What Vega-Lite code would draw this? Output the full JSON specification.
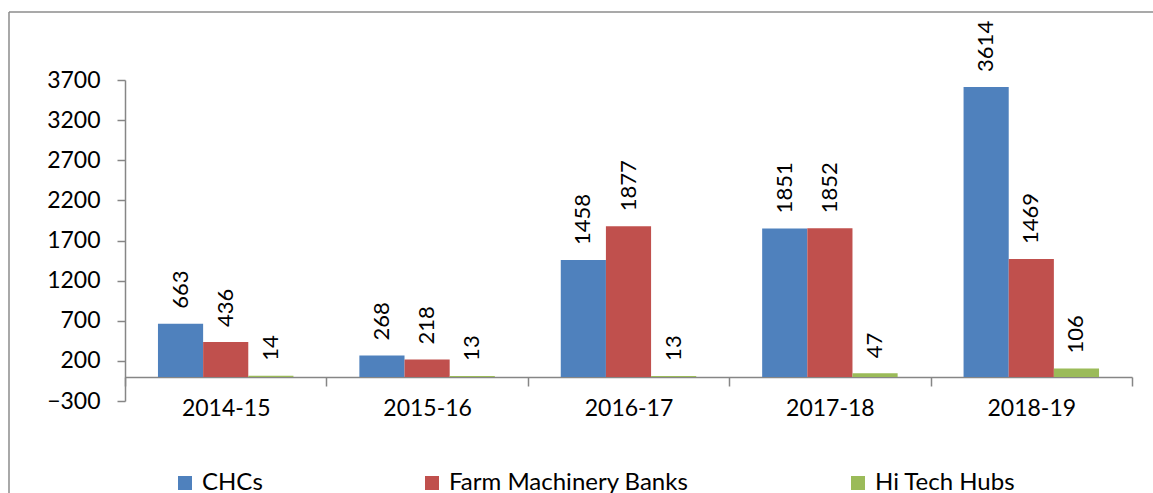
{
  "$schema": "https://vega.github.io/schema/vega-lite/v6.json",
  "width": 1007,
  "height": 321,
  "autosize": "none",
  "padding": {"left": 125, "top": 80, "right": 21, "bottom": 92},
  "background": "white",
  "config": {
    "font": "Lato",
    "view": {"stroke": null},
    "axis": {"labelFont": "Lato", "labelColor": "#000000", "domainColor": "#868686", "tickColor": "#868686", "domainWidth": 1.5, "tickWidth": 1.5, "grid": false, "title": null}
  },
  "resolve": {"scale": {"x": "independent"}, "axis": {"x": "independent"}},
  "layer": [
    {
      "data": {
        "values": [
          {"year": "2014-15", "series": "CHCs", "value": 663},
          {"year": "2014-15", "series": "Farm Machinery Banks", "value": 436},
          {"year": "2014-15", "series": "Hi Tech Hubs", "value": 14},
          {"year": "2015-16", "series": "CHCs", "value": 268},
          {"year": "2015-16", "series": "Farm Machinery Banks", "value": 218},
          {"year": "2015-16", "series": "Hi Tech Hubs", "value": 13},
          {"year": "2016-17", "series": "CHCs", "value": 1458},
          {"year": "2016-17", "series": "Farm Machinery Banks", "value": 1877},
          {"year": "2016-17", "series": "Hi Tech Hubs", "value": 13},
          {"year": "2017-18", "series": "CHCs", "value": 1851},
          {"year": "2017-18", "series": "Farm Machinery Banks", "value": 1852},
          {"year": "2017-18", "series": "Hi Tech Hubs", "value": 47},
          {"year": "2018-19", "series": "CHCs", "value": 3614},
          {"year": "2018-19", "series": "Farm Machinery Banks", "value": 1469},
          {"year": "2018-19", "series": "Hi Tech Hubs", "value": 106}
        ]
      },
      "encoding": {
        "x": {
          "field": "year", "type": "nominal", "sort": null,
          "scale": {"paddingInner": 0, "paddingOuter": 0},
          "axis": {"labelAngle": 0, "labelFontSize": 23, "tickBand": "extent", "tickSize": 9, "labelPadding": 11, "offset": -24}
        },
        "xOffset": {
          "field": "series", "type": "nominal",
          "scale": {"paddingInner": 0, "paddingOuter": 0.73}
        },
        "y": {
          "field": "value", "type": "quantitative",
          "scale": {"domain": [-300, 3700], "nice": false},
          "axis": {"values": [-300, 200, 700, 1200, 1700, 2200, 2700, 3200, 3700], "format": "d", "labelFontSize": 23, "tickSize": 8, "labelPadding": 17}
        }
      },
      "layer": [
        {
          "mark": {"type": "bar"},
          "encoding": {
            "y2": {"datum": 0},
            "color": {
              "field": "series", "type": "nominal",
              "scale": {"domain": ["CHCs", "Farm Machinery Banks", "Hi Tech Hubs"], "range": ["#4F81BD", "#C0504D", "#9BBB59"]},
              "legend": {
                "title": null, "orient": "none", "direction": "horizontal",
                "legendX": 48, "legendY": 391,
                "symbolType": "square", "symbolSize": 196, "symbolStrokeWidth": 0,
                "labelFontSize": 24, "labelFont": "Lato", "labelColor": "#000000", "labelLimit": 500,
                "labelOffset": 5, "columnPadding": 157, "padding": 0
              }
            }
          }
        },
        {
          "mark": {"type": "text", "angle": 270, "align": "left", "baseline": "middle", "dx": 15, "fontSize": 22, "font": "Lato", "color": "#000000"},
          "encoding": {
            "text": {"field": "value", "type": "quantitative", "format": "d"}
          }
        }
      ]
    },
    {
      "data": {"values": [{}]},
      "mark": {"type": "rule", "color": "#8C8C8C", "strokeWidth": 1.5, "clip": false},
      "encoding": {
        "x": {"datum": -0.1152, "type": "quantitative", "scale": {"domain": [0, 1]}, "axis": null},
        "y": {"datum": -1600},
        "y2": {"datum": 4547}
      }
    },
    {
      "data": {"values": [{}]},
      "mark": {"type": "rule", "color": "#8C8C8C", "strokeWidth": 1.5, "clip": false},
      "encoding": {
        "x": {"datum": -0.1152, "type": "quantitative", "scale": {"domain": [0, 1]}, "axis": null},
        "x2": {"datum": 1.2},
        "y": {"datum": 4547}
      }
    }
  ]
}
